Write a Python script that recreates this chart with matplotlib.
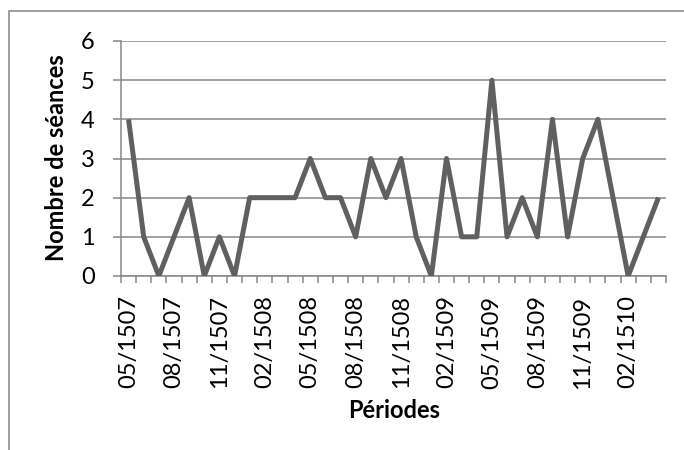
import matplotlib
matplotlib.use("Agg")
import matplotlib.pyplot as plt
from matplotlib.patches import Rectangle
import numpy as np

# Monthly session counts, 05/1507 .. 04/1510
periods = [
    "05/1507", "06/1507", "07/1507", "08/1507", "09/1507", "10/1507",
    "11/1507", "12/1507", "01/1508", "02/1508", "03/1508", "04/1508",
    "05/1508", "06/1508", "07/1508", "08/1508", "09/1508", "10/1508",
    "11/1508", "12/1508", "01/1509", "02/1509", "03/1509", "04/1509",
    "05/1509", "06/1509", "07/1509", "08/1509", "09/1509", "10/1509",
    "11/1509", "12/1509", "01/1510", "02/1510", "03/1510", "04/1510",
]
seances = [4, 1, 0, 1, 2, 0, 1, 0, 2, 2, 2, 2,
           3, 2, 2, 1, 3, 2, 3, 1, 0, 3, 1, 1,
           5, 1, 2, 1, 4, 1, 3, 4, 2, 0, 1, 2]
y_ticks = [0, 1, 2, 3, 4, 5, 6]

W, H = 684, 450
plt.rcParams["font.family"] = ["Lato", "DejaVu Sans"]
fig = plt.figure(figsize=(W / 100, H / 100), dpi=100)

# outer chart frame
fig.patches.append(Rectangle((9 / W, -0.2), 1.2, 1.2 - 11 / H,
                             transform=fig.transFigure, fill=False,
                             edgecolor="#8c8c8c", linewidth=1.2))

left, right, top, bottom = 121, 666, 41, 276
ax = fig.add_axes([left / W, 1 - bottom / H, (right - left) / W, (bottom - top) / H])

x = np.arange(len(periods))
ax.plot(x, seances, color="#606060", linewidth=3.6, solid_joinstyle="round",
        solid_capstyle="butt", zorder=3)

ax.set_xlim(-0.5, len(periods) - 0.5)
ax.set_ylim(0, 6)

grid_col = "#878787"
fs = 17
ax.set_yticks(y_ticks)
ax.yaxis.grid(True, color=grid_col, linewidth=1.1)
ax.set_axisbelow(True)
ax.tick_params(axis="y", length=6, width=1.1, color=grid_col, pad=13,
               labelsize=fs, labelcolor="black")

label_idx = list(range(0, len(periods), 3))
ax.set_xticks(label_idx)
ax.set_xticklabels([periods[i] for i in label_idx], rotation=90)
ax.set_xticks(np.arange(-0.5, len(periods)), minor=True)
ax.tick_params(axis="x", which="major", length=0, pad=14, labelsize=fs)
ax.tick_params(axis="x", which="minor", length=5, width=1.1, color=grid_col)

for s in ("top", "right"):
    ax.spines[s].set_visible(False)
for s in ("left", "bottom"):
    ax.spines[s].set_color(grid_col)
    ax.spines[s].set_linewidth(1.1)

fig.text(57 / W, 1 - 158 / H, "Nombre de séances", rotation=90, ha="center",
         va="center", fontsize=fs, fontweight="bold")
fig.text(394 / W, 1 - 411 / H, "Périodes", ha="center", va="center",
         fontsize=fs, fontweight="bold")

fig.savefig("out.png", dpi=100)
